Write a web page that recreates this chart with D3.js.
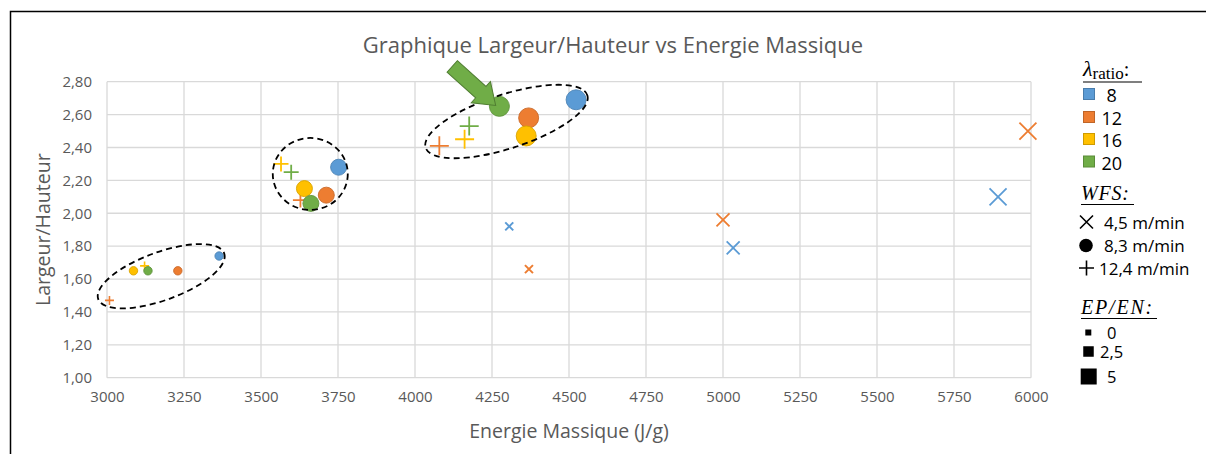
<!DOCTYPE html>
<html>
<head>
<meta charset="utf-8">
<script src="https://cdn.jsdelivr.net/npm/d3@7"></script>
<style>
  html, body { margin: 0; padding: 0; background: #fff; }
  svg { display: block; }
  .tick-label { font-family: "Open Sans", "Noto Sans", sans-serif; font-size: 15px; fill: #595959; }
  .axis-title { font-family: "Open Sans", "Noto Sans", sans-serif; font-size: 19.5px; fill: #595959; }
  .chart-title { font-family: "Open Sans", "Noto Sans", sans-serif; font-size: 22px; fill: #595959; }
  .leg { font-family: "Open Sans", "Noto Sans", sans-serif; fill: #000; }
  .math { font-family: "Liberation Serif", "DejaVu Serif", serif; fill: #000; }
</style>
</head>
<body>
<svg id="chart" width="1206" height="454"></svg>
<script>
// ---- data -------------------------------------------------------------
const energy   = [3008, 3086, 3122, 3133, 3230, 3364,
                  3565, 3598, 3628, 3641, 3712, 3662, 3752,
                  4079, 4161, 4176, 4274, 4369, 4361, 4523,
                  4306, 4370, 5000, 5033, 5893, 5990];
const ratio    = [1.47, 1.65, 1.68, 1.65, 1.65, 1.74,
                  2.30, 2.25, 2.08, 2.15, 2.11, 2.06, 2.28,
                  2.41, 2.45, 2.53, 2.65, 2.58, 2.47, 2.69,
                  1.92, 1.66, 1.96, 1.79, 2.10, 2.50];
const lambdaRatio = [12, 16, 16, 20, 12, 8,
                     16, 20, 12, 16, 12, 20, 8,
                     12, 16, 20, 20, 12, 16, 8,
                     8, 12, 12, 8, 8, 12];
const wfs      = [12.4, 8.3, 12.4, 8.3, 8.3, 8.3,
                  12.4, 12.4, 12.4, 8.3, 8.3, 8.3, 8.3,
                  12.4, 12.4, 12.4, 8.3, 8.3, 8.3, 8.3,
                  4.5, 4.5, 4.5, 4.5, 4.5, 4.5];
const epen     = [0, 0, 0, 0, 0, 0,
                  2.5, 2.5, 2.5, 2.5, 2.5, 2.5, 2.5,
                  5, 5, 5, 5, 5, 5, 5,
                  0, 0, 2.5, 2.5, 5, 5];

const xTicks = [3000, 3250, 3500, 3750, 4000, 4250, 4500, 4750, 5000, 5250, 5500, 5750, 6000];
const yTicks = [1.0, 1.2, 1.4, 1.6, 1.8, 2.0, 2.2, 2.4, 2.6, 2.8];

const lambdaLevels = [8, 12, 16, 20];
const lambdaColors = ["#5B9BD5", "#ED7D31", "#FFC000", "#70AD47"];
const wfsLevels = [4.5, 8.3, 12.4];
const wfsLabels = ["4,5 m/min", "8,3 m/min", "12,4 m/min"];
const epLevels = [0, 2.5, 5];
const epLabels = ["0", "2,5", "5"];

// dashed groupings (centre in data units) and the highlight arrow tip
const groupEnergy = [3176, 3660, 4297];
const groupRatio  = [1.617, 2.239, 2.558];
const arrowTip = [4262, 2.655];

// ---- layout -----------------------------------------------------------
const svg = d3.select("#chart");
const x = d3.scaleLinear().domain([3000, 6000]).range([107, 1031]);
const y = d3.scaleLinear().domain([1.0, 2.8]).range([377.7, 81.7]);
const color = d3.scaleOrdinal().domain(lambdaLevels).range(lambdaColors);
const circleR = d3.scaleOrdinal().domain(epLevels).range([4.2, 8, 10]);
const crossH  = d3.scaleOrdinal().domain(epLevels).range([4, 6.5, 8.5]);
const plusH   = d3.scaleOrdinal().domain(epLevels).range([4.5, 7.5, 9.5]);
const groupRx = [67, 37.5, 85], groupRy = [24, 36, 27], groupRot = [-20, 0, -18];

// outer frame of the chart area
svg.append("path").attr("d", "M10.5,460 V11.5 H1220")
  .attr("fill", "none").attr("stroke", "#000").attr("stroke-width", 1.5);

// gridlines
const grid = svg.append("g").attr("stroke", "#D9D9D9").attr("stroke-width", 1.3);
grid.selectAll("line.v").data(xTicks).join("line")
  .attr("x1", d => x(d)).attr("x2", d => x(d)).attr("y1", y(2.8)).attr("y2", y(1.0));
grid.selectAll("line.h").data(yTicks).join("line")
  .attr("y1", d => y(d)).attr("y2", d => y(d)).attr("x1", x(3000)).attr("x2", x(6000));

// axes (labels only, lines come from the grid)
const fmt2 = d => d3.format(".2f")(d).replace(".", ",");
const xAxis = svg.append("g").attr("transform", `translate(0,${y(1.0)})`)
  .call(d3.axisBottom(x).tickValues(xTicks).tickFormat(d3.format("d")).tickSize(0).tickPadding(14));
const yAxis = svg.append("g").attr("transform", `translate(${x(3000)},0)`)
  .call(d3.axisLeft(y).tickValues(yTicks).tickFormat(fmt2).tickSize(0).tickPadding(15));
[xAxis, yAxis].forEach(a => {
  a.select(".domain").remove();
  a.selectAll("text").attr("class", "tick-label").attr("font-size", null).attr("font-family", null).attr("fill", null);
  a.attr("font-size", null).attr("font-family", null);
});

// titles
svg.append("text").attr("class", "chart-title").attr("x", 613).attr("y", 53)
  .attr("text-anchor", "middle").text("Graphique Largeur/Hauteur vs Energie Massique");
svg.append("text").attr("class", "axis-title").attr("x", (x(3000) + x(6000)) / 2).attr("y", 438)
  .attr("text-anchor", "middle").text("Energie Massique (J/g)");
svg.append("text").attr("class", "axis-title").attr("font-size", 20)
  .attr("transform", `translate(50,${(y(1.0) + y(2.8)) / 2}) rotate(-90)`)
  .attr("text-anchor", "middle").text("Largeur/Hauteur");

// ---- marks ------------------------------------------------------------
const pts = energy.map((e, i) => ({ e, r: ratio[i], l: lambdaRatio[i], w: wfs[i], p: epen[i] }));
const marks = svg.append("g");

// 12,4 m/min : plus signs
marks.selectAll("path.plus").data(pts.filter(d => d.w === 12.4)).join("path")
  .attr("d", d => { const h = plusH(d.p), cx = x(d.e), cy = y(d.r);
    return `M${cx - h},${cy}H${cx + h}M${cx},${cy - h}V${cy + h}`; })
  .attr("stroke", d => color(d.l)).attr("stroke-width", d => d.p === 0 ? 1.6 : 1.8).attr("fill", "none");

// 8,3 m/min : filled circles
marks.selectAll("circle").data(pts.filter(d => d.w === 8.3)).join("circle")
  .attr("cx", d => x(d.e)).attr("cy", d => y(d.r)).attr("r", d => circleR(d.p))
  .attr("fill", d => color(d.l))
  .attr("stroke", d => d3.color(color(d.l)).darker(0.45)).attr("stroke-width", 0.9);

// 4,5 m/min : crosses
marks.selectAll("path.cross").data(pts.filter(d => d.w === 4.5)).join("path")
  .attr("d", d => { const h = crossH(d.p), cx = x(d.e), cy = y(d.r);
    return `M${cx - h},${cy - h}L${cx + h},${cy + h}M${cx - h},${cy + h}L${cx + h},${cy - h}`; })
  .attr("stroke", d => color(d.l)).attr("stroke-width", d => d.p === 0 ? 2 : 1.8).attr("fill", "none");

// dashed ellipses around the three groups
svg.append("g").selectAll("ellipse").data(groupEnergy).join("ellipse")
  .attr("transform", (d, i) => `translate(${x(d)},${y(groupRatio[i])}) rotate(${groupRot[i]})`)
  .attr("rx", (d, i) => groupRx[i]).attr("ry", (d, i) => groupRy[i])
  .attr("fill", "none").attr("stroke", "#000").attr("stroke-width", 1.8)
  .attr("stroke-dasharray", "6,4");

// block arrow pointing at the green circle
{
  const L = 58.5, hw = 7.7, hh = 14.3, hl = 20;
  const tx = x(arrowTip[0]), ty = y(arrowTip[1]);
  const ang = 42;
  svg.append("path")
    .attr("d", `M${-L},${-hw}H${-hl}V${-hh}L0,0L${-hl},${hh}V${hw}H${-L}Z`)
    .attr("transform", `translate(${tx},${ty}) rotate(${ang})`)
    .attr("fill", "#70AD47").attr("stroke", "#507E32").attr("stroke-width", 1);
}

// ---- legend -----------------------------------------------------------
const lg = svg.append("g");
// lambda ratio heading
const lt = lg.append("text").attr("class", "math").attr("x", 1083).attr("y", 76);
lt.append("tspan").attr("font-style", "italic").attr("font-size", 22).text("λ");
lt.append("tspan").attr("font-size", 17).attr("dy", 3).text("ratio");
lt.append("tspan").attr("font-size", 20).attr("dy", -3).text(":");
lg.append("line").attr("x1", 1083).attr("x2", 1142).attr("y1", 82).attr("y2", 82).attr("stroke", "#000").attr("stroke-width", 1.2);

const lamY = [94.5, 117.5, 139.5, 162];
lg.selectAll("rect.lam").data(lambdaLevels).join("rect")
  .attr("x", 1083.5).attr("y", (d, i) => lamY[i] - 6).attr("width", 11).attr("height", 11)
  .attr("fill", d => color(d)).attr("stroke", d => d3.color(color(d)).darker(0.6)).attr("stroke-width", 1);
lg.selectAll("text.lam").data(lambdaLevels).join("text").attr("class", "leg")
  .attr("x", (d, i) => i === 0 ? 1106.5 : 1101.5).attr("y", (d, i) => lamY[i] + 7.5)
  .attr("font-size", 18).text(d => d);

// WFS heading
lg.append("text").attr("class", "math").attr("x", 1081).attr("y", 200)
  .attr("font-style", "italic").attr("font-size", 20).attr("letter-spacing", 0.8).text("WFS:");
lg.append("line").attr("x1", 1081).attr("x2", 1134).attr("y1", 204.5).attr("y2", 204.5).attr("stroke", "#000").attr("stroke-width", 1.2);

const wfsY = [222, 245.5, 268];
// symbols
lg.append("path").attr("d", `M1080,${wfsY[0] - 6.5}L1093,${wfsY[0] + 6.5}M1080,${wfsY[0] + 6.5}L1093,${wfsY[0] - 6.5}`)
  .attr("stroke", "#000").attr("stroke-width", 1.6).attr("fill", "none");
lg.append("circle").attr("cx", 1086).attr("cy", wfsY[1]).attr("r", 6.8).attr("fill", "#000");
lg.append("path").attr("d", `M1079,${wfsY[2]}H1094M1086.5,${wfsY[2] - 7.5}V${wfsY[2] + 7.5}`)
  .attr("stroke", "#000").attr("stroke-width", 1.6).attr("fill", "none");
lg.selectAll("text.wfs").data(wfsLevels).join("text").attr("class", "leg")
  .attr("x", (d, i) => i === 2 ? 1099 : 1104).attr("y", (d, i) => wfsY[i] + 6.5)
  .attr("font-size", 17).text((d, i) => wfsLabels[i]);

// EP/EN heading
lg.append("text").attr("class", "math").attr("x", 1081).attr("y", 314)
  .attr("font-style", "italic").attr("font-size", 20).attr("letter-spacing", 1.8).text("EP/EN:");
lg.append("line").attr("x1", 1081).attr("x2", 1157).attr("y1", 318.5).attr("y2", 318.5).attr("stroke", "#000").attr("stroke-width", 1.2);

const epY = [332.5, 351.5, 376.5];
const epS = [6, 10.5, 16];
const epX = [1088.3, 1088.5, 1088.7];
lg.selectAll("rect.ep").data(epLevels).join("rect")
  .attr("x", (d, i) => epX[i] - epS[i] / 2).attr("y", (d, i) => epY[i] - epS[i] / 2)
  .attr("width", (d, i) => epS[i]).attr("height", (d, i) => epS[i]).attr("fill", "#000");
lg.selectAll("text.ep").data(epLevels).join("text").attr("class", "leg")
  .attr("x", (d, i) => i === 1 ? 1100 : 1107).attr("y", (d, i) => epY[i] + 6)
  .attr("font-size", 16.5).attr("fill", (d, i) => i === 1 ? "#000" : "#333").text((d, i) => epLabels[i]);
</script>
</body>
</html>
